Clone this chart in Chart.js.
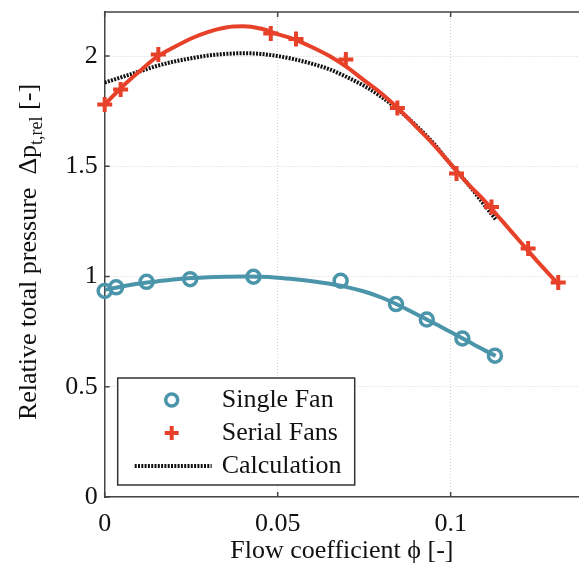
<!DOCTYPE html>
<html>
<head>
<meta charset="utf-8">
<script src="https://cdn.jsdelivr.net/npm/chart.js@4.4.1/dist/chart.umd.min.js"></script>
<style>
  html, body { margin: 0; padding: 0; background: #fff; }
  #wrap { width: 579px; height: 567px; }
</style>
</head>
<body>
<div id="wrap"><canvas id="myChart" width="579" height="567"></canvas></div>
<script>
// measured points
const singleFanPhi = [0.0, 0.0033, 0.0121, 0.0247, 0.0430, 0.0682, 0.0842, 0.0931, 0.1034, 0.1128];
const singleFanDp  = [0.935, 0.951, 0.976, 0.988, 0.999, 0.981, 0.875, 0.805, 0.719, 0.641];

const serialFansPhi = [0.0, 0.0046, 0.0155, 0.0480, 0.0553, 0.0697, 0.0846, 0.1017, 0.1118, 0.1224, 0.1311];
const serialFansDp  = [1.78, 1.848, 2.007, 2.103, 2.078, 1.985, 1.765, 1.467, 1.316, 1.127, 0.973];

// fitted curves
const singleFitPhi = [0, 0.005, 0.01, 0.015, 0.02, 0.025, 0.03, 0.035, 0.04, 0.045, 0.05, 0.055, 0.06, 0.065, 0.07, 0.075, 0.08, 0.085, 0.09, 0.095, 0.1, 0.105, 0.11, 0.113];
const singleFitDp  = [0.94, 0.955, 0.968, 0.978, 0.987, 0.993, 0.997, 0.999, 1.0, 0.999, 0.995, 0.988, 0.979, 0.967, 0.952, 0.932, 0.905, 0.87, 0.83, 0.79, 0.748, 0.706, 0.664, 0.64];

const serialFitPhi = [0, 0.005, 0.01, 0.015, 0.02, 0.025, 0.03, 0.035, 0.04, 0.045, 0.05, 0.055, 0.06, 0.065, 0.07, 0.075, 0.08, 0.085, 0.09, 0.095, 0.1, 0.105, 0.11, 0.115, 0.12, 0.125, 0.13, 0.1315];
const serialFitDp  = [1.78, 1.86, 1.93, 1.995, 2.04, 2.08, 2.11, 2.13, 2.135, 2.125, 2.10, 2.075, 2.04, 2.0, 1.95, 1.89, 1.83, 1.76, 1.68, 1.60, 1.51, 1.42, 1.34, 1.25, 1.16, 1.07, 0.985, 0.96];

const calcPhi = [0, 0.005, 0.01, 0.015, 0.02, 0.025, 0.03, 0.035, 0.04, 0.045, 0.05, 0.055, 0.06, 0.065, 0.07, 0.075, 0.08, 0.085, 0.09, 0.095, 0.1, 0.105, 0.11, 0.113];
const calcDp  = [1.88, 1.905, 1.93, 1.955, 1.975, 1.99, 2.003, 2.01, 2.013, 2.01, 2.0, 1.985, 1.965, 1.94, 1.905, 1.865, 1.815, 1.755, 1.685, 1.605, 1.51, 1.42, 1.32, 1.26];

const xTicks = [0, 0.05, 0.1];
const yTicks = [0, 0.5, 1, 1.5, 2];

const BLUE = '#4b95ab';
const RED = '#e8412a';
const FONT = "'Liberation Serif', 'Times New Roman', serif";

const pts = (xs, ys) => xs.map((x, i) => ({ x: x, y: ys[i] }));

// inward tick marks + top frame
const axisTicks = {
  id: 'axisTicks',
  afterDatasetsDraw(chart) {
    const { ctx, chartArea: a, scales: { x, y } } = chart;
    ctx.save();
    ctx.strokeStyle = '#444';
    ctx.lineWidth = 1.5;
    ctx.beginPath();
    ctx.moveTo(a.left, a.top);
    ctx.lineTo(a.right, a.top);
    xTicks.forEach(v => {
      const px = x.getPixelForValue(v);
      ctx.moveTo(px, a.bottom); ctx.lineTo(px, a.bottom - 5);
      ctx.moveTo(px, a.top); ctx.lineTo(px, a.top + 5);
    });
    yTicks.forEach(v => {
      const py = y.getPixelForValue(v);
      ctx.moveTo(a.left, py); ctx.lineTo(a.left + 5, py);
    });
    ctx.stroke();
    ctx.restore();
  }
};

// y title with subscript
const yTitle = {
  id: 'yTitle',
  afterDraw(chart) {
    const ctx = chart.ctx;
    const parts = [
      { t: 'Relative total pressure  \u0394p', size: 26, dy: 0 },
      { t: 't,rel', size: 18, dy: 6 },
      { t: ' [-]', size: 26, dy: 0 }
    ];
    ctx.save();
    ctx.fillStyle = '#111';
    ctx.textBaseline = 'alphabetic';
    let total = 0;
    parts.forEach(p => { ctx.font = p.size + 'px ' + FONT; p.w = ctx.measureText(p.t).width; total += p.w; });
    ctx.translate(36, 252);
    ctx.rotate(-Math.PI / 2);
    let cx = -total / 2;
    parts.forEach(p => {
      ctx.font = p.size + 'px ' + FONT;
      ctx.fillText(p.t, cx, p.dy);
      cx += p.w;
    });
    ctx.restore();
  }
};

// boxed legend inside the plot
const boxLegend = {
  id: 'boxLegend',
  afterDraw(chart) {
    const { ctx, chartArea: a } = chart;
    const ds = chart.data.datasets;
    const left = a.left + 13, right = a.left + 250, top = a.bottom - 119, bottom = a.bottom - 12;
    ctx.save();
    ctx.fillStyle = '#fff';
    ctx.fillRect(left, top, right - left, bottom - top);
    ctx.strokeStyle = '#333';
    ctx.lineWidth = 1.5;
    ctx.strokeRect(left, top, right - left, bottom - top);
    const mx = left + 54, tx = left + 104;
    const rows = [top + 22, top + 55, top + 88];
    // circle
    ctx.strokeStyle = BLUE; ctx.lineWidth = 3.5;
    ctx.beginPath(); ctx.arc(mx, rows[0], 6, 0, Math.PI * 2); ctx.stroke();
    // cross
    ctx.strokeStyle = RED; ctx.lineWidth = 4;
    ctx.beginPath();
    ctx.moveTo(mx - 7, rows[1]); ctx.lineTo(mx + 7, rows[1]);
    ctx.moveTo(mx, rows[1] - 7); ctx.lineTo(mx, rows[1] + 7);
    ctx.stroke();
    // dotted
    ctx.strokeStyle = '#111'; ctx.lineWidth = 4; ctx.setLineDash([2, 1.3]);
    ctx.beginPath(); ctx.moveTo(left + 17, rows[2]); ctx.lineTo(left + 94, rows[2]); ctx.stroke();
    ctx.setLineDash([]);
    ctx.fillStyle = '#111';
    ctx.font = '26px ' + FONT;
    ctx.textBaseline = 'middle';
    ctx.fillText(ds[0].label, tx, rows[0]);
    ctx.fillText(ds[1].label, tx, rows[1]);
    ctx.fillText(ds[2].label, tx, rows[2]);
    ctx.restore();
  }
};

const data = {
  datasets: [
    {
      label: 'Single Fan',
      data: pts(singleFanPhi, singleFanDp),
      showLine: false,
      pointStyle: 'circle',
      pointRadius: 6.5,
      pointBorderWidth: 3.5,
      pointBorderColor: BLUE,
      pointBackgroundColor: 'rgba(0,0,0,0)',
      clip: false,
      order: 0
    },
    {
      label: 'Serial Fans',
      data: pts(serialFansPhi, serialFansDp),
      showLine: false,
      pointStyle: 'cross',
      pointRadius: 7.5,
      pointBorderWidth: 4,
      pointBorderColor: RED,
      clip: false,
      order: 0
    },
    {
      label: 'Calculation',
      data: pts(calcPhi, calcDp),
      showLine: true,
      borderColor: '#111',
      borderWidth: 4,
      borderDash: [2, 1.3],
      pointRadius: 0,
      cubicInterpolationMode: 'monotone',
      order: 3
    },
    {
      label: 'single fit',
      data: pts(singleFitPhi, singleFitDp),
      showLine: true,
      borderColor: BLUE,
      borderWidth: 4,
      pointRadius: 0,
      cubicInterpolationMode: 'monotone',
      order: 1
    },
    {
      label: 'serial fit',
      data: pts(serialFitPhi, serialFitDp),
      showLine: true,
      borderColor: RED,
      borderWidth: 4,
      pointRadius: 0,
      cubicInterpolationMode: 'monotone',
      order: 2
    }
  ]
};

const config = {
  type: 'scatter',
  data: data,
  options: {
    responsive: false,
    animation: false,
    devicePixelRatio: 1,
    layout: { autoPadding: false, padding: { top: 12, right: 0, left: 0, bottom: 0 } },
    plugins: { legend: { display: false }, tooltip: { enabled: false } },
    scales: {
      x: {
        type: 'linear', min: 0, max: 0.1371,
        afterBuildTicks: s => { s.ticks = xTicks.map(v => ({ value: v })); },
        afterFit: s => { s.height = 70; s.paddingLeft = 0; s.paddingRight = 0; },
        grid: { color: '#d4d4d4', lineWidth: 1, drawTicks: false },
        border: { display: true, color: '#444', width: 1.5, dash: [1, 2] },
        ticks: { color: '#111', padding: 12, maxRotation: 0, font: { family: FONT, size: 26 }, callback: v => String(v) },
        title: { display: true, text: 'Flow coefficient \u03d5 [-]', color: '#111', padding: { top: 0, bottom: 0 }, font: { family: FONT, size: 26 } }
      },
      y: {
        type: 'linear', min: 0, max: 2.2,
        afterBuildTicks: s => { s.ticks = yTicks.map(v => ({ value: v })); },
        afterFit: s => { s.width = 104.7; s.paddingTop = 0; s.paddingBottom = 0; },
        grid: { color: '#d4d4d4', lineWidth: 1, drawTicks: false },
        border: { display: true, color: '#444', width: 1.5, dash: [1, 2] },
        ticks: { color: '#111', padding: 7, font: { family: FONT, size: 26 }, callback: v => String(v) }
      }
    }
  },
  plugins: [axisTicks, yTitle, boxLegend]
};

const myChart = new Chart(document.getElementById('myChart'), config);
</script>
</body>
</html>
